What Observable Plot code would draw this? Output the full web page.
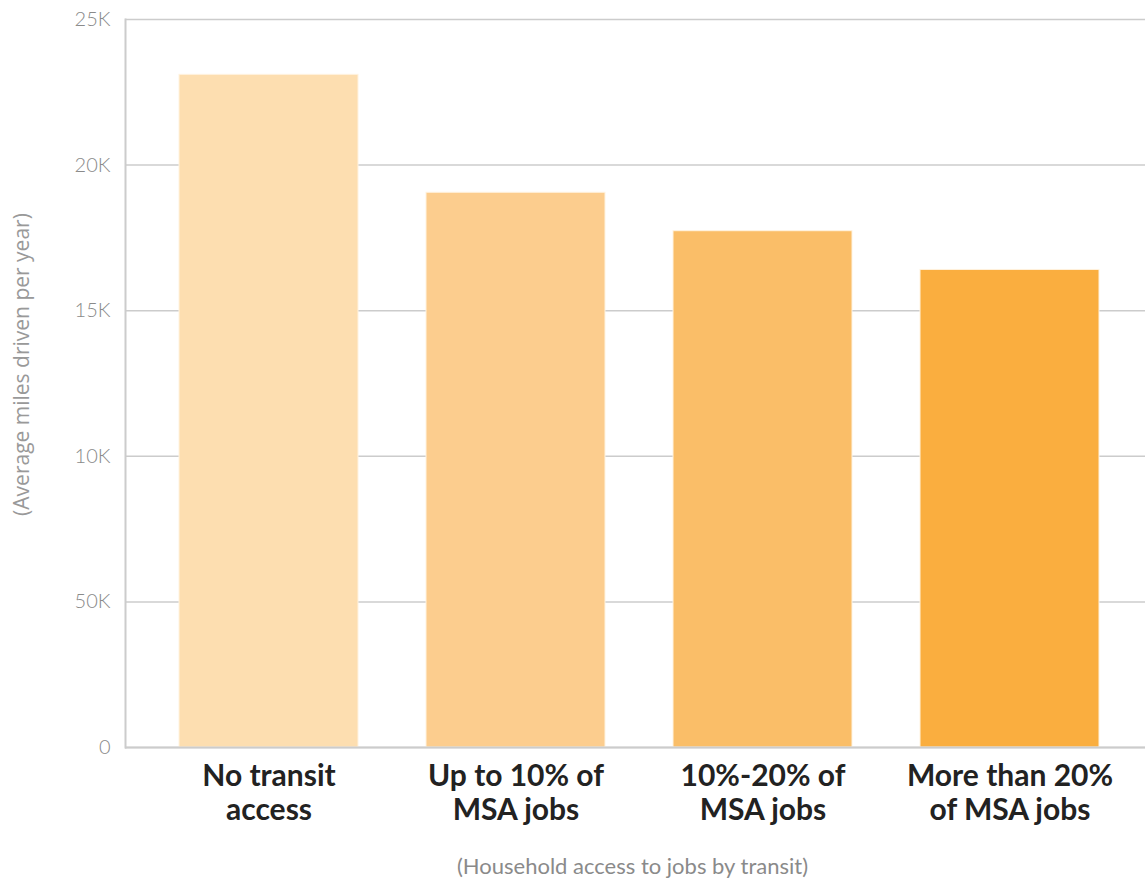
<!DOCTYPE html>
<html>
<head>
<meta charset="utf-8">
<script src="https://cdn.jsdelivr.net/npm/d3@7"></script>
<script src="https://cdn.jsdelivr.net/npm/@observablehq/plot@0.6"></script>
<style>
  html, body { margin: 0; padding: 0; background: #fff; }
  #chart { width: 1145px; height: 881px; }
</style>
</head>
<body>
<div id="chart"></div>
<script>
const categories = ["No transit\naccess", "Up to 10% of\nMSA jobs", "10%-20% of\nMSA jobs", "More than 20%\nof MSA jobs"];
const milesDriven = [23100, 19050, 17730, 16400];
const barColors = ["#fddeb0", "#fccd8e", "#fabe68", "#faae3f"];
const yTickValues = [0, 5000, 10000, 15000, 20000, 25000];
const yTickLabels = ["0", "50K", "10K", "15K", "20K", "25K"];
const yTitle = "(Average miles driven per year)";
const xTitle = "(Household access to jobs by transit)";

const data = categories.map((c, i) => ({category: c, value: milesDriven[i], color: barColors[i]}));

const chart = Plot.plot({
  width: 1145,
  height: 881,
  marginTop: 19,
  marginBottom: 134,
  marginLeft: 125,
  marginRight: 0,
  style: {fontFamily: "Lato, sans-serif", background: "#fff"},
  x: {domain: categories, paddingInner: 0.276, paddingOuter: 0.2, align: 0.535, label: null},
  y: {domain: [0, 25000], label: null},
  marks: [
    Plot.gridY(yTickValues, {stroke: "#cccccc", strokeOpacity: 1, strokeWidth: 1.5}),
    Plot.barY(data, {x: "category", y: "value", fill: "color", stroke: "#fff3e0", strokeWidth: 1}),
    Plot.ruleY([0], {stroke: "#cccccc", strokeWidth: 2}),
    Plot.frame({anchor: "left", stroke: "#cccccc", strokeWidth: 2}),
    Plot.axisY({ticks: yTickValues, tickFormat: (d) => yTickLabels[yTickValues.indexOf(d)], tickSize: 0, tickPadding: 15, fontSize: 20, fontWeight: 300, fill: "#8a8a8a", label: null}),
    Plot.axisX({tickSize: 0, tickPadding: 14, fontSize: 30, fontWeight: "bold", fill: "#222", lineHeight: 1.15, label: null}),
    Plot.text([yTitle], {frameAnchor: "left", textAnchor: "middle", rotate: -90, dx: -103, dy: -19, fontSize: 21, fill: "#999", fontFamily: "'Open Sans', sans-serif", text: d => d}),
    Plot.text([xTitle], {frameAnchor: "bottom", dx: -3, dy: 126, fontSize: 22, fill: "#8a8a8a", text: d => d})
  ]
});
document.getElementById("chart").appendChild(chart);
</script>
</body>
</html>
